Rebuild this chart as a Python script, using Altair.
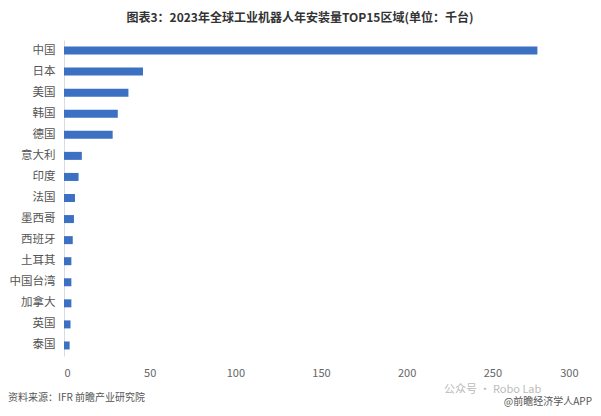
import altair as alt
import pandas as pd

regions = ["中国", "日本", "美国", "韩国", "德国", "意大利", "印度", "法国", "墨西哥",
           "西班牙", "土耳其", "中国台湾", "加拿大", "英国", "泰国"]
installs = [276.3, 46.1, 37.6, 31.4, 28.4, 10.4, 8.5, 6.4, 5.8, 5.1, 4.3, 4.3, 4.3, 3.8, 3.3]
x_ticks = [0, 50, 100, 150, 200, 250, 300]

df = pd.DataFrame({"region": regions, "value": installs})
FONT = "Noto Sans CJK SC"

bars = alt.Chart(df).mark_bar(color="#3B70C2", height=8).encode(
    x=alt.X("value:Q", scale=alt.Scale(domain=[0, 300], nice=False),
            axis=alt.Axis(values=x_ticks, grid=False, domain=False, ticks=False,
                          title=None, labelPadding=11, labelFont=FONT,
                          labelFontSize=11, labelColor="#666666")),
    y=alt.Y("region:N", sort=regions,
            axis=alt.Axis(title=None, ticks=False, domainColor="#D5DCE6",
                          labelPadding=9, labelFont=FONT, labelFontSize=11.5,
                          labelColor="#555555")),
)

notes = pd.DataFrame({"t": ["资料来源：IFR 前瞻产业研究院"]})
source = alt.Chart(notes).mark_text(align="left", baseline="middle", font=FONT,
                                    fontSize=10, color="#555555").encode(
    x=alt.value(-56), y=alt.value(42 + 316), text="t:N")

wm = pd.DataFrame({"t": ["公众号 · Robo Lab"]})
watermark = alt.Chart(wm).mark_text(align="left", baseline="middle", font=FONT,
                                    fontSize=11, color="#BBBBBB").encode(
    x=alt.value(380), y=alt.value(34 + 316), text="t:N")

app = pd.DataFrame({"t": ["@前瞻经济学人APP"]})
applabel = alt.Chart(app).mark_text(align="right", baseline="middle", font=FONT,
                                    fontSize=10, color="#555555").encode(
    x=alt.value(528), y=alt.value(46 + 316), text="t:N")

chart = alt.layer(bars, source, watermark, applabel).properties(
    width=514, height=316,
    background="white",
    autosize=alt.AutoSizeParams(type="none"),
    padding={"left": 56, "top": 32, "right": 15, "bottom": 52},
    title=alt.TitleParams("图表3：2023年全球工业机器人年安装量TOP15区域(单位：千台)",
                          anchor="middle", frame="group", dx=-21, offset=15,
                          font=FONT, fontSize=12, fontWeight="bold", color="#333333"),
).configure_view(stroke=None)

chart.save("out.html", embed_options={"renderer": "svg", "actions": False})
